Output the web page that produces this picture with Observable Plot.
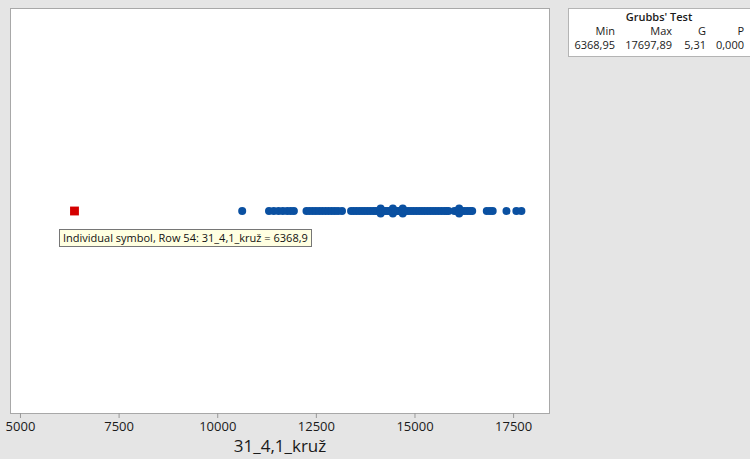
<!DOCTYPE html>
<html>
<head>
<meta charset="utf-8">
<script src="https://cdn.jsdelivr.net/npm/d3@7"></script>
<script src="https://cdn.jsdelivr.net/npm/@observablehq/plot@0.6"></script>
<style>
  html, body { margin: 0; padding: 0; background: #e5e5e5; }
  #wrap { position: relative; width: 750px; height: 459px; overflow: hidden; font-family: "Open Sans", "Noto Sans", sans-serif; }
  #table { position: absolute; left: 568px; top: 8px; width: 200px; height: 49px; background: #fff; border: 1px solid #b4b4b4; box-sizing: border-box; font-size: 11px; color: #1a1a1a; }
  #table div { position: absolute; white-space: nowrap; line-height: 12px; }
  #tip { position: absolute; left: 59px; top: 229px; height: 18px; padding: 0 3px; box-sizing: border-box; background: #ffffe1; border: 1px solid #767676; font-size: 11px; line-height: 16px; color: #111; white-space: nowrap; }
</style>
</head>
<body>
<div id="wrap"></div>
<script>
// Data
const values = [
  10620,
  11300, 11420, 11540, 11650, 11760, 11850, 11930,
  12250, 12330, 12410, 12490, 12570, 12650, 12730, 12810, 12890, 12970, 13050, 13150,
  13380, 13450, 13520, 13590, 13660, 13730, 13800, 13870, 13940, 14000, 14060,
  14130, 14130, 14130,
  14200, 14260, 14320, 14380,
  14440, 14440, 14440,
  14510, 14570, 14630,
  14690, 14690, 14690,
  14760, 14830, 14900, 14970, 15040, 15110, 15180, 15250, 15320, 15390, 15460, 15530, 15600, 15670, 15740, 15800, 15850,
  16000, 16060,
  16120, 16120, 16120,
  16190, 16260, 16330, 16400, 16450,
  16820, 16900, 16970,
  17320,
  17570, 17697.89
];
const outlier = [6368.95];
const xTicks = [5000, 7500, 10000, 12500, 15000, 17500];
const xLabel = ["31_4,1_kruž"];
const tableTitle = "Grubbs' Test";
const tableHeaders = ["Min", "Max", "G", "P"];
const tableValues = ["6368,95", "17697,89", "5,31", "0,000"];
const tipText = "Individual symbol, Row 54: 31_4,1_kruž = 6368,9";

// stack coincident values slightly (as overlapping symbols)
const seen = new Map();
const stackOrder = [0, 1.2, -1.2];
const points = values.map(v => {
  const k = seen.get(v) || 0;
  seen.set(v, k + 1);
  return { v, s: stackOrder[k % stackOrder.length] };
});

const chart = Plot.plot({
  width: 750,
  height: 459,
  marginLeft: 10,
  marginRight: 201,
  marginTop: 8,
  marginBottom: 46,
  style: { background: "#e5e5e5", fontFamily: "'Open Sans', 'Noto Sans', sans-serif", color: "#1a1a1a" },
  x: { domain: [4747, 18410], ticks: xTicks, tickFormat: d => String(d), tickSize: 5, tickPadding: 3, label: null },
  y: { domain: [-100, 100], axis: null },
  marks: [
    Plot.frame({ fill: "white", stroke: "#a8a8a8" }),
    Plot.axisX({ ticks: xTicks, tickFormat: d => String(d), tickSize: 5, tickPadding: 3, fontSize: 13, stroke: "#999", label: null }),
    Plot.dot(points, { x: "v", y: "s", r: 4, fill: "#0a50a1", stroke: "none" }),
    Plot.dot(outlier, { x: d => d, y: () => 0, r: 5, symbol: "square", fill: "#d40000", stroke: "none" }),
    Plot.text(xLabel, { text: d => d, frameAnchor: "bottom", dy: 33, lineAnchor: "middle", fontSize: 17, fontWeight: 500, fill: "#1a1a1a" })
  ]
});

const wrap = document.getElementById("wrap");
wrap.appendChild(chart);

// Grubbs' test table
const table = document.createElement("div");
table.id = "table";
wrap.appendChild(table);
function addText(txt, right, top, weight, center) {
  const d = document.createElement("div");
  d.textContent = txt;
  d.style.top = top + "px";
  if (center) { d.style.left = "0"; d.style.width = "180px"; d.style.textAlign = "center"; }
  else { d.style.right = (200 - right) + "px"; d.style.textAlign = "right"; }
  if (weight) d.style.fontWeight = weight;
  table.appendChild(d);
}
addText(tableTitle, 0, 2, 600, true);
const rights = [48, 105, 139, 177];
tableHeaders.forEach((h, i) => addText(h, rights[i], 16, 500));
tableValues.forEach((v, i) => addText(v, rights[i], 30, null));

// tooltip
const tip = document.createElement("div");
tip.id = "tip";
tip.textContent = tipText;
wrap.appendChild(tip);
</script>
</body>
</html>
